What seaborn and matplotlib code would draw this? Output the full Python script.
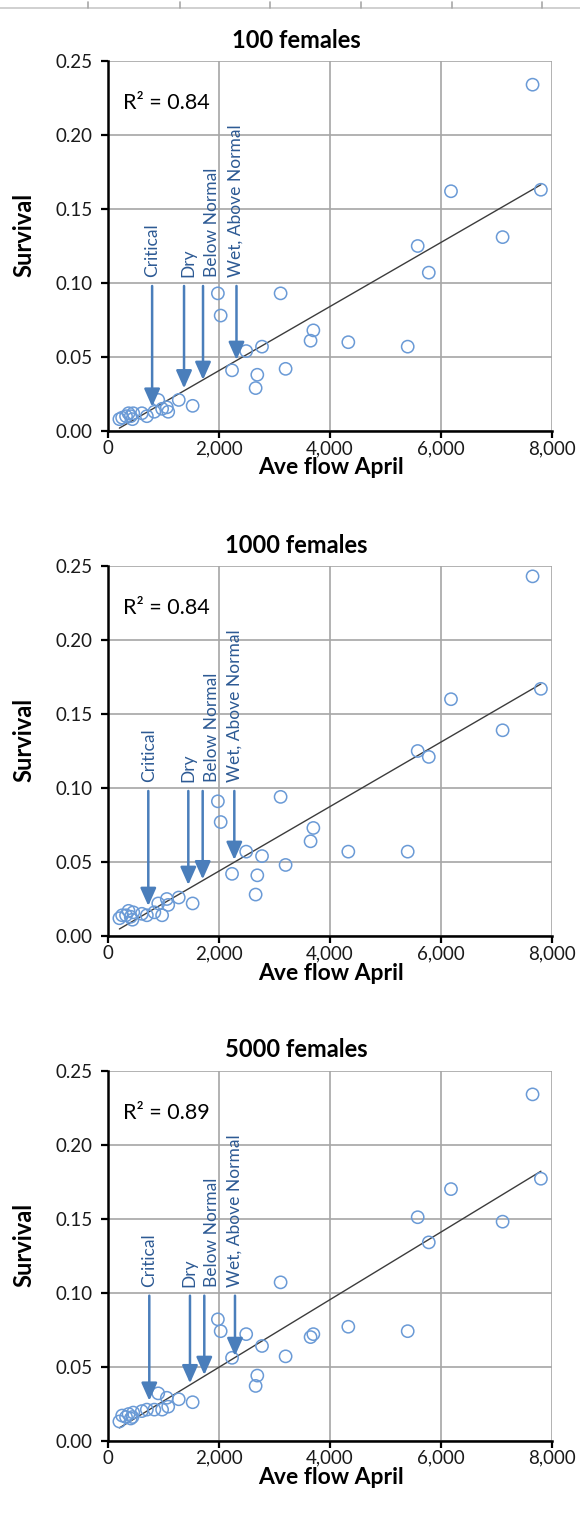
import numpy as np
import pandas as pd
import matplotlib
matplotlib.use("Agg")
import matplotlib.pyplot as plt
from matplotlib.lines import Line2D
from matplotlib.ticker import FuncFormatter
import seaborn as sns

# Average April flow for each year (same years in every panel)
flow = [7650, 7800, 6180, 7110, 5580, 5780, 5400, 4330, 3700, 3650,
        3110, 3200, 2775, 2690, 2660, 2490, 2235, 2030, 1980,
        1525, 1275, 1060, 1085, 905, 975, 835, 700, 610, 455,
        410, 370, 325, 255, 205, 440]

# Survival for three starting population sizes
surv_100 = [0.234, 0.163, 0.162, 0.131, 0.125, 0.107, 0.057, 0.060, 0.068, 0.061,
            0.093, 0.042, 0.057, 0.038, 0.029, 0.054, 0.041, 0.078, 0.093,
            0.017, 0.021, 0.016, 0.013, 0.021, 0.015, 0.013, 0.010, 0.012, 0.012,
            0.010, 0.012, 0.010, 0.009, 0.008, 0.008]
surv_1000 = [0.243, 0.167, 0.160, 0.139, 0.125, 0.121, 0.057, 0.057, 0.073, 0.064,
             0.094, 0.048, 0.054, 0.041, 0.028, 0.057, 0.042, 0.077, 0.091,
             0.022, 0.026, 0.025, 0.021, 0.022, 0.014, 0.016, 0.014, 0.015, 0.016,
             0.013, 0.017, 0.014, 0.014, 0.012, 0.011]
surv_5000 = [0.234, 0.177, 0.170, 0.148, 0.151, 0.134, 0.074, 0.077, 0.072, 0.070,
             0.107, 0.057, 0.064, 0.044, 0.037, 0.072, 0.056, 0.074, 0.082,
             0.026, 0.028, 0.029, 0.023, 0.032, 0.021, 0.021, 0.021, 0.020, 0.019,
             0.015, 0.018, 0.016, 0.017, 0.013, 0.016]

titles = ["100 females", "1000 females", "5000 females"]
r2_labels = ["R\u00b2 = 0.84", "R\u00b2 = 0.84", "R\u00b2 = 0.89"]

# Water-year type markers: arrow position on the flow axis and arrow tip height
year_types = ["Critical", "Dry", "Below Normal", "Wet, Above Normal"]
arrow_flow = [[795, 1370, 1712, 2315],
              [726, 1447, 1706, 2276],
              [744, 1477, 1735, 2288]]
arrow_tip = [[0.0164, 0.0288, 0.0345, 0.048],
             [0.0203, 0.0345, 0.0383, 0.0514],
             [0.027, 0.0388, 0.0444, 0.0572]]
label_flow = [[795, 1455, 1874, 2306],
              [739, 1441, 1868, 2288],
              [745, 1460, 1870, 2290]]

x_ticks = [0, 2000, 4000, 6000, 8000]
y_ticks = [0.00, 0.05, 0.10, 0.15, 0.20, 0.25]

sns.set_theme(style="white")
plt.rcParams["font.family"] = ["Lato", "DejaVu Sans"]

W, H = 580, 1513
fig = plt.figure(figsize=(W / 100, H / 100), dpi=100)
fig.patch.set_facecolor("white")

# spreadsheet column strip along the top edge
fig.add_artist(Line2D([0, 1], [1 - 8 / H, 1 - 8 / H], transform=fig.transFigure,
                      color="#c8c8c8", lw=1.2))
for cx in [88, 180, 270, 361, 452, 542]:
    fig.add_artist(Line2D([cx / W, cx / W], [1 - 2 / H, 1 - 8 / H],
                          transform=fig.transFigure, color="#a8a8a8", lw=1.2))

marker_color = "#6a9ad6"
arrow_color = "#4a7ebb"
text_color = "#2d5a94"

axes_left, axes_w, axes_h = 108, 444, 370
tops = [61, 566, 1070.7]
series = [surv_100, surv_1000, surv_5000]

for i, (top, surv) in enumerate(zip(tops, series)):
    ax = fig.add_axes([axes_left / W, 1 - (top + axes_h) / H, axes_w / W, axes_h / H])
    df = pd.DataFrame({"flow": flow, "survival": surv})

    ax.grid(True, color="#a6a6a6", lw=1.2)
    ax.set_axisbelow(True)

    sns.regplot(data=df, x="flow", y="survival", scatter=False, ci=None, ax=ax,
                color="#3c3c3c", line_kws={"lw": 1.0, "zorder": 3})
    sns.scatterplot(data=df, x="flow", y="survival", ax=ax, marker="o", s=78,
                    facecolor="none", edgecolor=marker_color, linewidth=1.1, zorder=4)

    ax.set_xlim(0, 8000)
    ax.set_ylim(0, 0.25)
    ax.set_xticks(x_ticks)
    ax.set_yticks(y_ticks)
    ax.xaxis.set_major_formatter(FuncFormatter(lambda v, p: f"{v:,.0f}"))
    ax.yaxis.set_major_formatter(FuncFormatter(lambda v, p: f"{v:.2f}"))
    ax.tick_params(axis="both", which="major", direction="out", length=5, width=1.6,
                   color="black", labelsize=13.5, labelcolor="#1a1a1a",
                   bottom=True, left=True)
    ax.tick_params(axis="x", pad=1.5)
    ax.tick_params(axis="y", pad=6)
    for side in ["top", "right"]:
        ax.spines[side].set_visible(False)
    for side in ["left", "bottom"]:
        ax.spines[side].set_color("black")
        ax.spines[side].set_linewidth(1.8)
    ax.set_xlabel("")
    ax.set_ylabel("")

    ax.text(270, 0.2216, r2_labels[i], fontsize=15.5, ha="left", va="center",
            color="black")

    for name, ax_x, tip, lx in zip(year_types, arrow_flow[i], arrow_tip[i], label_flow[i]):
        ax.annotate("", xy=(ax_x, tip), xytext=(ax_x, 0.098),
                    arrowprops=dict(arrowstyle="-|>,head_length=0.9,head_width=0.4",
                                    color=arrow_color, lw=1.8, shrinkA=0, shrinkB=0,
                                    mutation_scale=12), zorder=5)
        ax.text(lx, 0.104, name, rotation=90, ha="center", va="bottom",
                fontsize=12.5, color=text_color, zorder=5)

    fig.text(296 / W, 1 - (top - 21) / H, titles[i], ha="center", va="center",
             fontsize=17, fontweight="bold", color="black")
    fig.text(331 / W, 1 - (top + axes_h + 37) / H, "Ave flow April", ha="center",
             va="center", fontsize=16.5, fontweight="bold", color="black")
    fig.text(24 / W, 1 - (top + 174) / H, "Survival", ha="center", va="center",
             rotation=90, fontsize=17, fontweight="bold", color="black")

fig.savefig("out.png", dpi=100, facecolor="white")
